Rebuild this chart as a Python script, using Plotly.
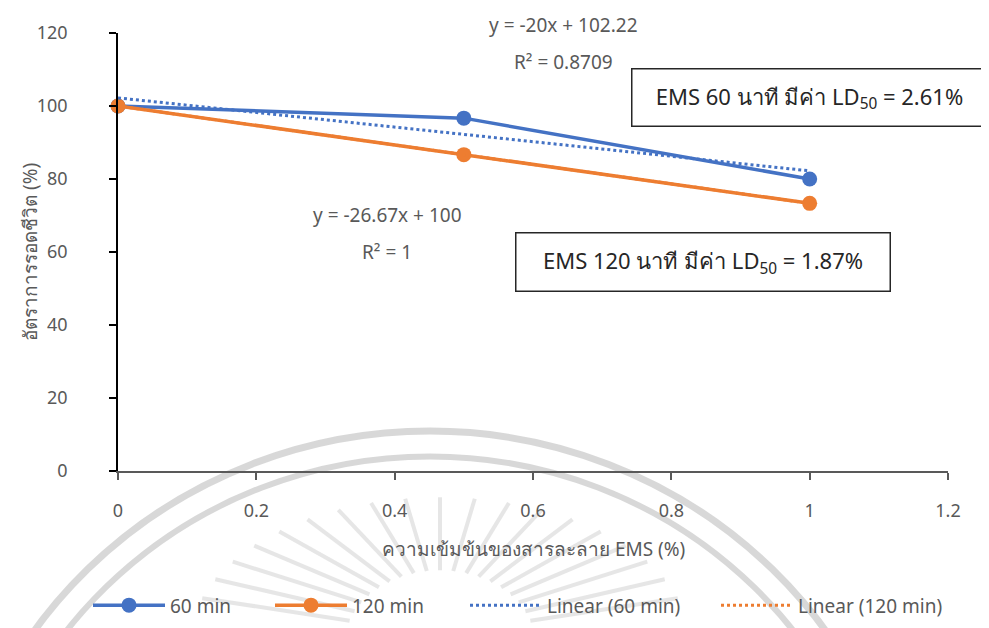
import numpy as np
import plotly.graph_objects as go

# ---- data ----
concentration = [0, 0.5, 1]
survival_60 = [100, 96.67, 80]
survival_120 = [100, 86.67, 73.33]
series_names = ["60 min", "120 min"]
trend_names = ["Linear (60 min)", "Linear (120 min)"]
ld50_texts = ["EMS 60 นาที มีค่า LD<sub>50</sub> = 2.61%", "EMS 120 นาที มีค่า LD<sub>50</sub> = 1.87%"]
x_title = "ความเข้มข้นของสารละลาย EMS (%)"
y_title = "อัตราการรอดชีวิต (%)"

BLUE = "#4472C4"
ORANGE = "#ED7D31"
GRAY = "#595959"
FONT = "Noto Sans, Roboto, sans-serif"

def fit(x, y):
    x = np.array(x, float); y = np.array(y, float)
    m, b = np.polyfit(x, y, 1)
    pred = m * x + b
    r2 = 1 - ((y - pred) ** 2).sum() / ((y - y.mean()) ** 2).sum()
    return m, b, r2

def fmt(v):
    return f"{v:.2f}".rstrip("0").rstrip(".")

# plot area in page pixels: x 118..948, y 23..473
def px(xp): return (xp - 118) / 830
def py(yp): return (473 - yp) / 450

fig = go.Figure()
xs = np.array(concentration, float)
legend_starts = [90, 272, 467, 718]
for i, (name, ys, col) in enumerate([(series_names[0], survival_60, BLUE), (series_names[1], survival_120, ORANGE)]):
    fig.add_trace(go.Scatter(x=concentration, y=ys, name=name, mode="lines+markers",
                             line=dict(color=col, width=3.5), marker=dict(size=15, color=col),
                             cliponaxis=False, legend="legend" if i == 0 else f"legend{i+1}"))

fits = []
for j, (name, ys, col) in enumerate([(trend_names[0], survival_60, BLUE), (trend_names[1], survival_120, ORANGE)]):
    m, b, r2 = fit(concentration, ys)
    fits.append((m, b, r2))
    fig.add_trace(go.Scatter(x=[xs.min(), xs.max()], y=[m * xs.min() + b, m * xs.max() + b],
                             name=name, mode="lines", line=dict(color=col, width=3, dash="dot"),
                             cliponaxis=False, legend=f"legend{j+3}"))

tfont = dict(family=FONT, size=19, color=GRAY)
m1, b1, r1 = fits[0]
m2, b2, r22 = fits[1]
ann = [
    dict(x=px(563), y=py(15), text=f"y = {fmt(m1)}x + {fmt(b1)}"),
    dict(x=px(563), y=py(53), text=f"R² = {r1:.4f}"),
    dict(x=px(387), y=py(210), text=f"y = {fmt(m2)}x + {fmt(b2)}"),
    dict(x=px(387), y=py(248), text=f"R² = {fmt(r22)}"),
]
annotations = [dict(a, xref="paper", yref="paper", showarrow=False, font=tfont,
                    xanchor="center", yanchor="middle") for a in ann]

box_font = dict(family=FONT, size=22, color="#262626")
annotations.append(dict(x=px(809.5), y=py(89.5), xref="paper", yref="paper", showarrow=False,
                        text=ld50_texts[0], font=box_font,
                        bordercolor="#262626", borderwidth=1.5, bgcolor="white",
                        width=352, height=54, align="center", xanchor="center", yanchor="middle"))
annotations.append(dict(x=px(703), y=py(258), xref="paper", yref="paper", showarrow=False,
                        text=ld50_texts[1], font=box_font,
                        bordercolor="#262626", borderwidth=1.5, bgcolor="white",
                        width=371, height=55, align="center", xanchor="center", yanchor="middle"))
annotations.append(dict(x=px(533), y=py(553), xref="paper", yref="paper", showarrow=False,
                        text=x_title, font=tfont, xanchor="center", yanchor="middle"))
annotations.append(dict(x=px(30), y=py(248), xref="paper", yref="paper", showarrow=False,
                        text=y_title, font=tfont, textangle=-90, xanchor="center", yanchor="middle"))

# faint watermark (seal arcs and rays)
WM = "rgba(200,200,200,0.7)"
shapes = []
cx, cy = 430, 916
for r, w in [(484, 7), (458, 6)]:
    shapes.append(dict(type="circle", xref="paper", yref="paper",
                       x0=px(cx - r), x1=px(cx + r), y0=py(cy + r), y1=py(cy - r),
                       line=dict(color=WM, width=w), layer="below"))
rcx, rcy = 440, 650
for ang in np.arange(18, 163, 8):
    a = np.deg2rad(ang)
    r_in_x, r_in_y, r_out_x, r_out_y = 95, 75, 250, 150
    x0p, y0p = rcx + r_in_x * np.cos(a), rcy - r_in_y * np.sin(a)
    x1p, y1p = rcx + r_out_x * np.cos(a), rcy - r_out_y * np.sin(a)
    shapes.append(dict(type="line", xref="paper", yref="paper",
                       x0=px(x0p), y0=py(y0p), x1=px(x1p), y1=py(y1p),
                       line=dict(color="rgba(210,210,210,0.55)", width=4), layer="below"))

legend_common = dict(orientation="h", yanchor="middle", xanchor="left",
                     font=dict(family=FONT, size=19, color=GRAY), itemwidth=72,
                     bgcolor="rgba(0,0,0,0)")
legends = {}
for k, s in enumerate(legend_starts):
    key = "legend" if k == 0 else f"legend{k+1}"
    legends[key] = dict(legend_common, x=px(s - 2), y=py(611))

fig.update_layout(
    width=989, height=628,
    margin=dict(l=110, r=49, t=15, b=163),
    paper_bgcolor="white", plot_bgcolor="rgba(0,0,0,0)",
    font=dict(family=FONT, size=18, color=GRAY),
    xaxis=dict(range=[0, 1.2], dtick=0.2, showgrid=False, zeroline=False, showline=True,
               linecolor="#595959", linewidth=1.5, ticks="outside", ticklen=7, tickcolor="#595959",
               tickwidth=1.5, tickfont=dict(family=FONT, size=18, color=GRAY), ticklabelstandoff=16),
    yaxis=dict(range=[0, 120], dtick=20, showgrid=False, zeroline=False, showline=True,
               linecolor="black", linewidth=1.5, ticks="outside", ticklen=7, tickcolor="black",
               tickwidth=1.5, tickfont=dict(family=FONT, size=18, color=GRAY), ticklabelstandoff=38),
    showlegend=True,
    annotations=annotations,
    shapes=shapes,
    **legends,
)

fig.write_html("out.html")
